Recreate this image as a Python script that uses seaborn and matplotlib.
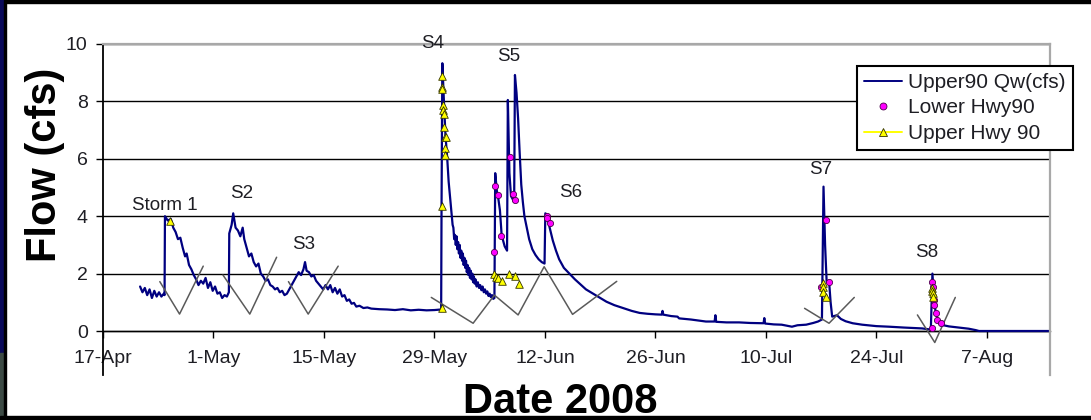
import numpy as np
import pandas as pd
import matplotlib
matplotlib.use("Agg")
import matplotlib.pyplot as plt
import matplotlib.dates as mdates
from matplotlib.lines import Line2D
from matplotlib.patches import Rectangle
import seaborn as sns

# ---------------- data ----------------
start_date = pd.Timestamp("2008-04-17")
end_date = pd.Timestamp("2008-08-15")

# Upper90 Qw(cfs): day offset from 17-Apr, flow
flow_days = [4.7, 5.0, 5.3, 5.6, 5.9, 6.2, 6.5, 6.8, 7.1, 7.4, 7.7, 7.8, 7.85,
             8.2, 8.6, 8.9, 9.2, 9.5, 9.8, 10.1, 10.4, 10.6, 10.9, 11.2, 11.5, 11.8, 12.1, 12.4, 12.7,
             13.0, 13.3, 13.6, 13.9, 14.2, 14.5, 14.8, 15.1, 15.4, 15.7, 15.95,
             16.0, 16.3, 16.5, 16.8, 17.1, 17.4, 17.7, 17.9, 18.2, 18.5, 18.8, 19.1, 19.4, 19.7,
             20.0, 20.3, 20.6, 20.9, 21.2, 21.5, 21.8, 22.1, 22.4, 22.7, 23.0, 23.3,
             23.6, 23.9, 24.2, 24.5, 24.8, 25.1, 25.4, 25.6, 25.8, 26.1, 26.4, 26.7, 27.0, 27.3,
             27.6, 27.9, 28.2, 28.5, 28.8, 29.1, 29.4, 29.7, 30.0, 30.3, 30.6, 30.9, 31.2, 31.5,
             31.8, 32.1, 32.5, 33.0, 33.5, 34.0, 35.0, 36.0, 37.0, 38.0, 39.0, 40.0, 41.0, 42.0, 42.85,
             42.9, 43.0, 43.2, 43.4, 43.6, 43.8, 44.0, 44.1, 44.2, 44.3, 44.4, 44.5, 44.6, 44.7,
             44.8, 44.9, 45.0, 45.1, 45.2, 45.3, 45.4, 45.5, 45.6, 45.7, 45.8, 45.9, 46.0, 46.1,
             46.2, 46.3, 46.4, 46.5, 46.6, 46.7, 46.8, 46.9, 47.0, 47.1, 47.2, 47.35, 47.5, 47.65,
             47.8, 47.95, 48.1, 48.25, 48.4, 48.55, 48.7, 48.85, 49.0, 49.15, 49.3, 49.45, 49.6,
             49.7, 49.9, 50.1, 50.3, 50.5, 50.7, 50.9, 51.2, 51.3, 51.5, 51.7, 51.9, 52.1, 52.2,
             52.4, 52.6, 52.8, 53.0, 53.2, 53.4, 53.7, 54.0, 54.4, 54.8, 55.2, 55.6, 55.95,
             56.05, 56.3, 56.6, 57.0, 57.4, 57.8, 58.4, 59.1, 59.8, 60.4, 61.2, 62.1, 63.0, 63.8,
             64.8, 65.9, 67.0, 68.0, 69.0, 70.0, 70.8, 70.9, 71.0, 72.0, 72.8, 73.0, 74.5, 76.4,
             77.5, 77.6, 77.7, 79.0, 80.6, 82.0, 83.7, 83.8, 83.9, 85.0, 86.0, 87.3, 88.0, 89.1,
             90.0, 90.6, 91.1,
             91.3, 91.5, 91.7, 92.0, 92.2, 92.4, 93.0, 93.5, 94.1, 95.0, 96.2, 98.0, 99.6, 101.5,
             103.8, 104.9,
             105.1, 105.3, 105.5, 105.9, 106.5, 107.2, 108.5, 109.7, 110.6, 111.0, 120.0]
flow_cfs = [1.55, 1.35, 1.5, 1.25, 1.45, 1.15, 1.4, 1.2, 1.35, 1.2, 1.3, 1.25, 4.0,
            3.85, 3.9, 3.6, 3.45, 3.2, 3.25, 2.9, 2.6, 2.7, 2.3, 2.15, 1.95, 1.8, 1.6, 1.75, 1.65,
            1.85, 1.5, 1.7, 1.4, 1.55, 1.3, 1.35, 1.15, 1.25, 1.2, 1.35,
            3.4, 3.7, 4.1, 3.6, 3.5, 3.3, 3.6, 3.2, 2.9, 2.6, 2.7, 2.4, 2.25, 2.35,
            2.0, 1.9, 1.75, 1.8, 1.6, 1.55, 1.45, 1.5, 1.35, 1.4, 1.25, 1.3,
            1.45, 1.6, 1.75, 1.9, 2.05, 1.95, 2.15, 2.4, 2.1, 2.05, 1.9, 1.95, 1.75, 1.65,
            1.55, 1.45, 1.6, 1.45, 1.6, 1.35, 1.5, 1.3, 1.45, 1.2, 1.25, 1.05, 1.1, 0.95,
            0.98, 0.85, 0.88, 0.8, 0.82, 0.78, 0.76, 0.75, 0.73, 0.76, 0.72, 0.74, 0.72, 0.73, 0.75,
            4.4, 9.33, 8.0, 6.8, 6.1, 5.2, 4.6, 4.3, 4.0, 3.7, 3.6, 3.2, 3.35, 3.0,
            3.3, 2.85, 3.1, 2.7, 3.0, 2.55, 2.8, 2.45, 2.7, 2.3, 2.55, 2.2, 2.45, 2.05,
            2.3, 1.95, 2.2, 1.85, 2.1, 1.8, 2.0, 1.7, 1.9, 1.65, 1.8, 1.55, 1.7, 1.5,
            1.6, 1.42, 1.55, 1.35, 1.45, 1.3, 1.38, 1.22, 1.3, 1.18, 1.25, 1.12, 1.15,
            5.5, 4.9, 4.6, 4.2, 3.4, 3.15, 2.95, 2.8, 8.05, 5.5, 4.7, 4.6, 4.5, 8.92,
            8.3, 7.4, 6.2, 5.1, 4.5, 4.0, 3.6, 3.2, 2.85, 2.65, 2.5, 2.4, 2.35,
            4.1, 4.05, 3.6, 3.15, 2.8, 2.5, 2.2, 2.0, 1.8, 1.65, 1.45, 1.3, 1.15, 1.02,
            0.9, 0.8, 0.7, 0.63, 0.6, 0.58, 0.57, 0.7, 0.57, 0.52, 0.5, 0.44, 0.4, 0.33,
            0.33, 0.55, 0.32, 0.3, 0.3, 0.28, 0.27, 0.45, 0.26, 0.23, 0.22, 0.15, 0.2, 0.22,
            0.28, 0.33, 0.4,
            5.03, 3.0, 1.7, 1.75, 1.0, 0.5, 0.55, 0.42, 0.34, 0.27, 0.22, 0.17, 0.15, 0.12,
            0.09, 0.05,
            2.0, 1.2, 0.65, 0.3, 0.2, 0.16, 0.12, 0.08, 0.03, 0.0, 0.0]

# Lower Hwy90 samples
lower_days = [49.6, 49.7, 50.0, 50.4, 51.6, 51.9, 52.2,
              56.2, 56.3, 56.6,
              91.0, 91.6, 92.0,
              105.0, 105.1, 105.15, 105.25, 105.3, 105.5, 105.7, 106.2]
lower_cfs = [2.76, 5.05, 4.74, 3.31, 6.05, 4.76, 4.56,
             4.02, 3.95, 3.75,
             1.54, 3.87, 1.72,
             0.09, 1.72, 1.55, 1.08, 0.9, 0.62, 0.38, 0.27]

# Upper Hwy 90 samples
upper_days = [8.5,
              42.9, 42.9, 43.0, 43.0, 43.0, 43.1, 43.1, 43.2, 43.2, 43.3, 43.5, 43.3, 43.3,
              49.6, 49.8, 50.0, 50.6, 51.4, 52.2, 52.7,
              91.2, 91.2, 91.2, 91.6,
              105.1, 105.1, 105.15, 105.2]
upper_cfs = [3.84,
             0.79, 4.36, 8.89, 8.49, 8.42, 7.87, 7.7, 7.55, 7.12, 6.75, 6.75, 6.37, 6.13,
             1.99, 1.89, 1.85, 1.75, 1.99, 1.93, 1.63,
             1.66, 1.55, 1.37, 1.2,
             1.49, 1.4, 1.31, 1.2]

# hydrograph separation lines (gray)
sep_event = ["S1"] * 3 + ["S2"] * 3 + ["S3"] * 3 + ["S4-6"] * 7 + ["S7"] * 3 + ["S8"] * 3
sep_days = [7.2, 9.7, 12.7,
            15.2, 18.6, 22.0,
            23.5, 26.0, 29.8,
            41.6, 46.9, 49.6, 52.6, 55.9, 59.5, 65.1,
            88.9, 92.0, 95.2,
            103.2, 105.4, 108.0]
sep_cfs = [1.72, 0.59, 2.26,
           1.95, 0.59, 2.57,
           1.72, 0.59, 2.26,
           1.17, 0.27, 1.25, 0.56, 2.24, 0.58, 1.73,
           0.79, 0.27, 1.17,
           0.56, -0.4, 1.17]

# storm labels
storm_names = ["Storm 1", "S2", "S3", "S4", "S5", "S6", "S7", "S8"]
storm_days = [7.85, 17.6, 25.4, 41.8, 51.4, 59.2, 91.0, 104.4]
storm_cfs = [4.39, 4.8, 3.03, 10.0, 9.58, 4.81, 5.64, 2.72]

x_tick_dates = pd.date_range("2008-04-17", "2008-08-07", freq="14D")
y_ticks = [0, 2, 4, 6, 8, 10]

series_names = ["Upper90 Qw(cfs)", "Lower Hwy90", "Upper Hwy 90"]


def to_dates(days):
    return start_date + pd.to_timedelta(np.asarray(days, dtype=float), unit="D")


# ---------------- style ----------------
sns.set_style("white")
plt.rcParams["font.family"] = ["Liberation Sans", "DejaVu Sans"]
text_color = "#1e1e24"

fig = plt.figure(figsize=(10.91, 4.20), dpi=100)
fig.patch.set_facecolor("white")
ax = fig.add_axes([103 / 1091, 1 - 375 / 420, (1050 - 103) / 1091, (375 - 44) / 420])
ax.set_facecolor("white")

flow_df = pd.DataFrame({"date": to_dates(flow_days), "cfs": flow_cfs})
sns.lineplot(data=flow_df, x="date", y="cfs", ax=ax, color="#000080", lw=1.6,
             estimator=None, sort=False, errorbar=None, zorder=3)

sep_df = pd.DataFrame({"date": to_dates(sep_days), "cfs": sep_cfs, "event": sep_event})
sns.lineplot(data=sep_df, x="date", y="cfs", units="event", ax=ax, color="#5a5a5a",
             lw=1.1, estimator=None, sort=False, errorbar=None, zorder=4)

lower_df = pd.DataFrame({"date": to_dates(lower_days), "cfs": lower_cfs})
sns.scatterplot(data=lower_df, x="date", y="cfs", ax=ax, marker="o", s=20,
                color="#ff00ff", edgecolor="#4a004a", linewidth=0.6, zorder=5)

upper_df = pd.DataFrame({"date": to_dates(upper_days), "cfs": upper_cfs})
sns.scatterplot(data=upper_df, x="date", y="cfs", ax=ax, marker="^", s=30,
                color="#ffff00", edgecolor="#333300", linewidth=0.6, zorder=6)

for name, d, v in zip(storm_names, storm_days, storm_cfs):
    ax.text(to_dates([d])[0], v, name, ha="center", va="center", fontsize=13.5,
            color=text_color, zorder=7)

# axes
ax.set_xlim(start_date, end_date)
ax.set_ylim(-1.533, 10)
ax.set_yticks(y_ticks)
ax.set_xticks(x_tick_dates)
ax.xaxis.set_major_formatter(mdates.DateFormatter("%-d-%b"))
ax.yaxis.grid(True, color="black", lw=1.0)
ax.xaxis.grid(False)
ax.set_axisbelow(True)

ax.spines["bottom"].set_position(("data", 0))
ax.spines["bottom"].set_color("black")
ax.spines["bottom"].set_linewidth(1.0)
ax.spines["left"].set_color("black")
ax.spines["left"].set_linewidth(1.3)
for s in ["top", "right"]:
    ax.spines[s].set_color("#a8a8a8")
    ax.spines[s].set_linewidth(1.6)
    ax.spines[s].set_zorder(3)

ax.tick_params(axis="x", direction="out", length=5, width=1, color="black",
               labelsize=14, pad=9, labelcolor=text_color, bottom=True)
ax.tick_params(axis="y", direction="out", length=5, width=1, color="black",
               labelsize=14, pad=6, labelcolor=text_color, left=True)

ax.set_xlabel("Date 2008", fontsize=30, fontweight="bold", color="black", va="top")
ax.xaxis.set_label_coords((560 - 103) / 947, (375 - 382) / 331)
ax.set_ylabel("Flow (cfs)", fontsize=30, fontweight="bold", color="black", va="center")
ax.yaxis.set_label_coords((45 - 103) / 947, (375 - 165) / 331)

handles = [
    Line2D([], [], color="#000080", lw=1.4),
    Line2D([], [], color="#ff00ff", marker="o", lw=0, markersize=5,
           markeredgecolor="#4a004a", markeredgewidth=0.6),
    Line2D([], [], color="#ffff00", marker="^", lw=1.4, markersize=6,
           markerfacecolor="#ffff00", markeredgecolor="#333300", markeredgewidth=0.6),
]
leg = ax.legend(handles, series_names, loc="upper right", bbox_to_anchor=(1.024, 0.935),
                fontsize=15, frameon=True, fancybox=False, edgecolor="black",
                handlelength=1.8, handletextpad=0.3, labelspacing=0.32, borderpad=0.35,
                borderaxespad=0)
leg.get_frame().set_linewidth(1.5)
leg.get_frame().set_alpha(1)
for t in leg.get_texts():
    t.set_color(text_color)
leg.set_zorder(10)

# surrounding slide frame
W, H = 1091, 420
fig.add_artist(Rectangle((0, 1 - 3 / H), 1, 3 / H, transform=fig.transFigure,
                         color="black", zorder=20))
fig.add_artist(Rectangle((0, 1 - 353 / H), 4 / W, 353 / H, transform=fig.transFigure,
                         color="#0a0a5a", zorder=20))
fig.add_artist(Rectangle((0, 0), 4 / W, 1 - 353 / H, transform=fig.transFigure,
                         color="#3c4a44", zorder=20))
fig.add_artist(Rectangle((4 / W, 0), 2 / W, 1, transform=fig.transFigure,
                         color="black", zorder=20))
fig.add_artist(Rectangle((0, 0), 1, 4 / H, transform=fig.transFigure,
                         color="black", zorder=20))

fig.savefig("out.png", dpi=100)
